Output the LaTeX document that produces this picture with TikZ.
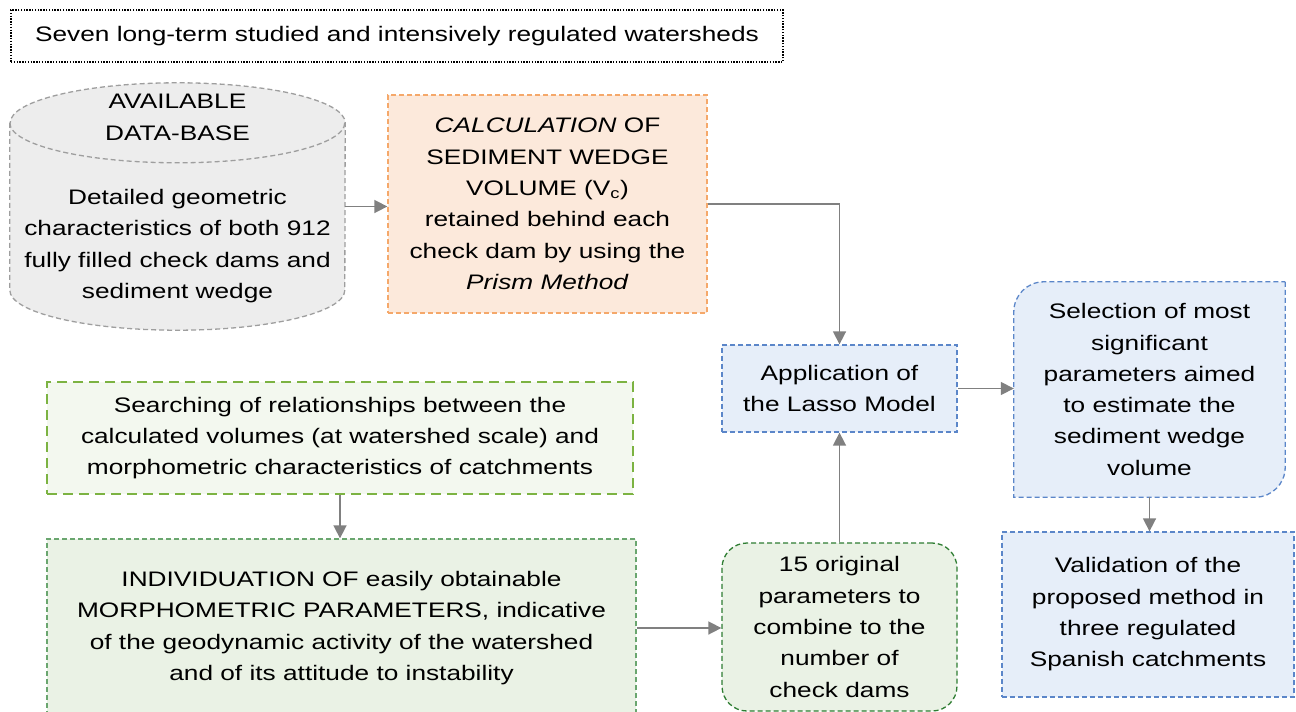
\documentclass[tikz,border=0pt]{standalone}
\usepackage{fontspec}
\setmainfont{Liberation Sans}[FakeStretch=1.25]
\usepackage{tikz}
\usetikzlibrary{arrows.meta}
\definecolor{arrowgray}{HTML}{808080}
\definecolor{dbfill}{HTML}{EDEDED}
\definecolor{dbline}{HTML}{9E9E9E}
\definecolor{calcfill}{HTML}{FCE9DB}
\definecolor{calcline}{HTML}{F5A86A}
\definecolor{bluefill}{HTML}{E6EEF9}
\definecolor{blueline}{HTML}{5B86C9}
\definecolor{searchfill}{HTML}{F3F8EF}
\definecolor{searchline}{HTML}{7CB342}
\definecolor{greenfill}{HTML}{EAF2E5}
\definecolor{indivline}{HTML}{6AA66F}
\definecolor{darkline}{HTML}{2E7D32}
\newcommand\boxfont{\fontsize{21}{31.3}\selectfont}

\begin{document}
\begin{tikzpicture}[x=1pt, y=1pt, font=\boxfont,
    every node/.style={align=center, inner sep=0pt},
    flow/.style={draw=arrowgray, line width=1.6pt, -{Triangle[length=13pt, width=13pt]}},
    dashbox/.style={line width=1.3pt, dash pattern=on 5pt off 3pt},
    titlebox/.style={draw, line width=1.4pt, dash pattern=on 1.4pt off 1.4pt,
      minimum width=772pt, minimum height=52pt},
    calcbox/.style={dashbox, draw=calcline, fill=calcfill},
    bluebox/.style={dashbox, draw=blueline, fill=bluefill},
    searchbox/.style={draw=searchline, fill=searchfill, line width=2.4pt,
      dash pattern=on 10pt off 6pt},
    indivbox/.style={dashbox, draw=indivline, fill=greenfill},
    fifteenbox/.style={dashbox, draw=darkline, fill=greenfill, rounded corners=25pt}]
  \clip (0,0) rectangle (1296,-712);

  \node [titlebox] (title) at (397,-36)
    {Seven long-term studied and intensively regulated watersheds};

  % data base cylinder
  \node [minimum width=335pt, minimum height=247pt] (db) at (177.5,-206.5) {};
  \path [dashbox, draw=dbline, fill=dbfill]
    ([yshift=-40pt]db.north west) -- ([yshift=40pt]db.south west)
    arc [start angle=180, end angle=360, x radius=167.5pt, y radius=40pt]
    -- ([yshift=-40pt]db.north east)
    arc [start angle=0, end angle=180, x radius=167.5pt, y radius=40pt] -- cycle;
  \draw [dashbox, draw=dbline] ([yshift=-40pt]db.north west)
    arc [start angle=180, end angle=360, x radius=167.5pt, y radius=40pt];
  \node (dbhead) at (177.5,-117.5) {AVAILABLE\\DATA-BASE};
  \node (dbtext) at (177.5,-246)
    {
      Detailed geometric\\
      characteristics of both 912\\
      fully filled check dams and\\
      sediment wedge
    };

  \node [calcbox, minimum width=319pt, minimum height=218pt] (calc) at (547.5,-204)
    {
      \textit{CALCULATION} OF\\
      SEDIMENT WEDGE\\
      VOLUME (V\textsubscript{c})\\
      retained behind each\\
      check dam by using the\\
      \textit{Prism Method}
    };

  \node [bluebox, minimum width=235pt, minimum height=87pt] (lasso) at (839.5,-388.5)
    {Application of\\the Lasso Model};

  % selection box, two rounded corners
  \node [minimum width=271pt, minimum height=215pt] (select) at (1149.5,-389.5) {};
  \path [bluebox] (select.north east) -- ([yshift=30pt]select.south east)
    arc [start angle=0, end angle=-90, radius=30pt] -- (select.south west)
    -- ([yshift=-30pt]select.north west)
    arc [start angle=180, end angle=90, radius=30pt] -- cycle;
  \node (selecttext) at (select)
    {
      Selection of most\\
      significant\\
      parameters aimed\\
      to estimate the\\
      sediment wedge\\
      volume
    };

  \node [bluebox, minimum width=292pt, minimum height=165pt] (valid) at (1148,-614.5)
    {
      Validation of the\\
      proposed method in\\
      three regulated\\
      Spanish catchments
    };

  \node [searchbox, minimum width=586pt, minimum height=112pt] (search) at (340,-438)
    {
      Searching of relationships between the\\
      calculated volumes (at watershed scale) and\\
      morphometric characteristics of catchments
    };

  \node [indivbox, minimum width=589pt, minimum height=178pt] (indiv) at (341.5,-628)
    {
      INDIVIDUATION OF easily obtainable\\
      MORPHOMETRIC PARAMETERS, indicative\\
      of the geodynamic activity of the watershed\\
      and of its attitude to instability
    };

  \node [fifteenbox, minimum width=235pt, minimum height=168pt] (fifteen) at (839.5,-627)
    {
      15 original\\
      parameters to\\
      combine to the\\
      number of\\
      check dams
    };

  \draw [flow] (db.east) -- (db.east -| calc.west);
  \draw [flow] (calc.east) -| (lasso.north);
  \draw [flow] (lasso.east) -- (lasso.east -| select.west);
  \draw [flow] (select.south) -- (select.south |- valid.north);
  \draw [flow] (search.south) -- (search.south |- indiv.north);
  \draw [flow] (indiv.east) -- (indiv.east -| fifteen.west);
  \draw [flow] (fifteen.north) -- (lasso.south);
\end{tikzpicture}
\end{document}
